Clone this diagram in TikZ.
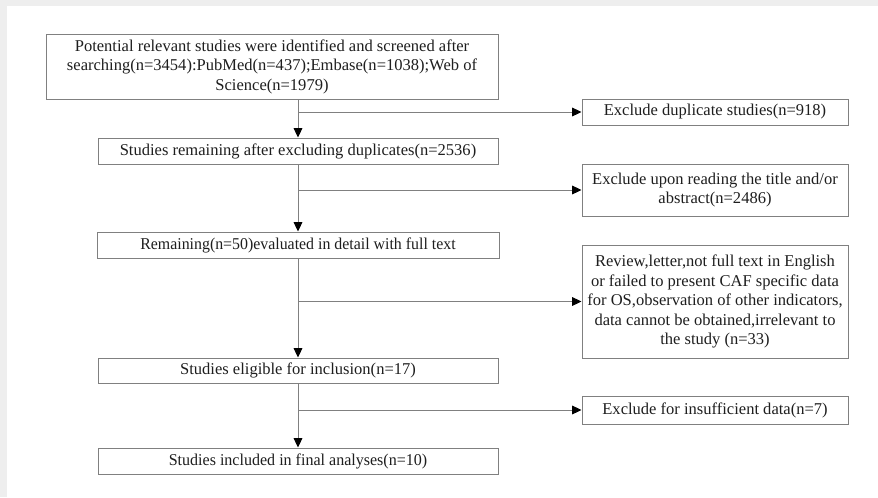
\documentclass[tikz,border=0pt]{standalone}
\usepackage{fontspec}
\setmainfont{Liberation Serif}
\usetikzlibrary{arrows.meta}

\definecolor{framegray}{RGB}{238,238,238}
\definecolor{linegray}{RGB}{128,128,128}
\definecolor{textdark}{RGB}{30,30,30}

\tikzset{every picture/.style={line width=0.75pt}}
\tikzset{
  box/.style={draw=linegray, fill=white, inner sep=0pt, align=center, text=textdark,
    font=\fontsize{12.4}{14.6}\selectfont},
  flowarrow/.style={draw=linegray, -{Triangle[length=7pt,width=6.5pt,color=black]}},
  flowline/.style={draw=linegray}
}

\begin{document}
\begin{tikzpicture}[x=0.75pt,y=0.75pt,yscale=-1,xscale=1]
		\useasboundingbox (0,0) rectangle (878,497);
		%page frame
		\fill [framegray] (0,0) rectangle (878,497);
		\fill [white] (7,6) rectangle (878,497);

		%main column
		\draw (272,66.5) node [box, minimum width=339pt, minimum height=48.75pt] (search) {Potential relevant studies were identified and screened after\\searching(n=3454):PubMed(n=437);Embase(n=1038);Web of\\Science(n=1979)};
		\draw (298,151) node [box, minimum width=300pt, minimum height=19.5pt] (dedup) {Studies remaining after excluding duplicates(n=2536)};
		\draw (298,245) node [box, minimum width=301.5pt, minimum height=19.5pt] (fulltext) {\scalebox{0.96}[1]{Remaining(n=50)evaluated in detail with full text}};
		\draw (298,370.5) node [box, minimum width=300pt, minimum height=18.75pt] (eligible) {Studies eligible for inclusion(n=17)};
		\draw (298,461) node [box, minimum width=300pt, minimum height=19.5pt] (final) {\scalebox{0.97}[1]{Studies included in final analyses(n=10)}};

		%exclusions
		\draw (715,112) node [box, minimum width=199.5pt, minimum height=19.5pt] (exdup) {Exclude duplicate studies(n=918)};
		\draw (715,190) node [box, minimum width=199.5pt, minimum height=39pt] (extitle) {Exclude upon reading the title and/or\\abstract(n=2486)};
		\draw (715,301.5) node [box, minimum width=199.5pt, minimum height=84.75pt] (exreview) {Review,letter,not full text in English\\or failed to present CAF specific data\\for OS,observation of other indicators,\\data cannot be obtained,irrelevant to\\the study (n=33)};
		\draw (715,410) node [box, minimum width=199.5pt, minimum height=21pt] (exdata) {Exclude for insufficient data(n=7)};

		\draw [flowarrow] (dedup.north |- search.south) -- (dedup.north);
		\draw [flowarrow] (dedup.south) -- (fulltext.north);
		\draw [flowarrow] (fulltext.south) -- (eligible.north);
		\draw [flowarrow] (eligible.south) -- (final.north);

		\draw [flowarrow] (dedup.north |- exdup.west) -- (exdup.west);
		\draw [flowarrow] (dedup.south |- extitle.west) -- (extitle.west);
		\draw [flowarrow] (fulltext.south |- exreview.west) -- (exreview.west);
		\draw [flowarrow] (eligible.south |- exdata.west) -- (exdata.west);

\end{tikzpicture}
\end{document}
